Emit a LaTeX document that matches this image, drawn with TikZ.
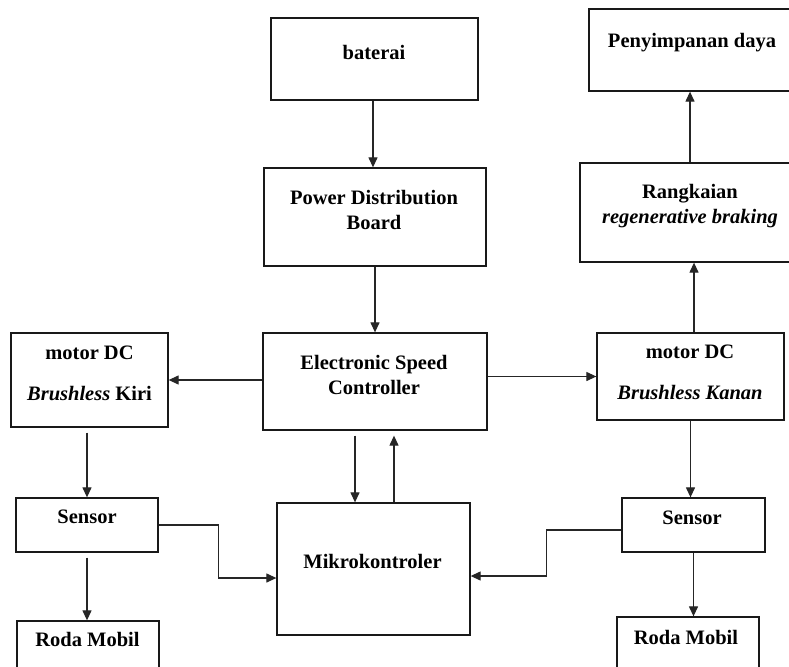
\documentclass[tikz,border=0pt]{standalone}
\usepackage{fontspec}
\setmainfont{Liberation Serif}
\usetikzlibrary{arrows.meta}
\tikzset{
  blk/.style={draw=black!90, line width=1.3pt, rectangle, inner sep=0pt},
  txt/.style={font=\fontsize{20.5}{25}\selectfont\bfseries, inner sep=0pt, align=center},
  arr/.style={draw=black!85, line width=1.2pt, -{Triangle[length=10pt,width=9pt]}},
}
\begin{document}
\begin{tikzpicture}[x=1pt,y=-1pt]
\useasboundingbox (0,0) rectangle (789,666);
\clip (0,0) rectangle (789,666);
\fill[white] (0,0) rectangle (789,666);
% boxes
\node[blk, minimum width=207pt, minimum height=82pt] (bat) at (374.5,59) {};
\node[blk, minimum width=211pt, minimum height=82pt] (pen) at (694.5,50) {};
\node[blk, minimum width=222pt, minimum height=98pt] (pdb) at (375,217) {};
\node[blk, minimum width=220pt, minimum height=99pt] (rb) at (690,212.5) {};
\node[blk, minimum width=157pt, minimum height=94pt] (mkiri) at (89.5,380) {};
\node[blk, minimum width=224pt, minimum height=97pt] (esc) at (375,381.5) {};
\node[blk, minimum width=187pt, minimum height=87pt] (mkanan) at (690.5,376.5) {};
\node[blk, minimum width=142pt, minimum height=54pt] (sL) at (87,525) {};
\node[blk, minimum width=193pt, minimum height=132pt] (mik) at (373.5,569) {};
\node[blk, minimum width=143pt, minimum height=54pt] (sR) at (693.5,525) {};
\node[blk, minimum width=142pt, minimum height=79pt] (rL) at (88,660.5) {};
\node[blk, minimum width=142pt, minimum height=83pt] (rR) at (688,658.5) {};
% texts
\node[txt] (tbat) at (374,52) {baterai};
\node[txt] (tpen) at (692,43) {Penyimpanan daya};
\node[txt] (tpdb) at (374,210) {Power Distribution\\Board};
\node[txt] (trb) at (690,206.5) {Rangkaian\\\textit{regenerative braking}};
\node[txt] (tmkiri) at (89.5,373.5) {motor DC\\[16pt]\textit{Brushless} Kiri};
\node[txt] (tesc) at (374,375) {Electronic Speed\\Controller};
\node[txt] (tmkanan) at (690,372.5) {motor DC\\[16pt]\textit{Brushless Kanan}};
\node[txt] (tsL) at (87,517) {Sensor};
\node[txt] (tmik) at (372.5,561) {Mikrokontroler};
\node[txt] (tsR) at (692,518) {Sensor};
\node[txt] (trL) at (87.5,639) {Roda Mobil};
\node[txt] (trR) at (686,637) {Roda Mobil};
% connectors
\draw[arr] ([xshift=-1.5pt]bat.south) -- ([xshift=-1.5pt]bat.south |- pdb.north);
\draw[arr] (pdb.south) -- (pdb.south |- esc.north);
\draw[arr] ([yshift=1.5pt]esc.west) -- ([yshift=1.5pt]esc.west -| mkiri.east);
\draw[arr] (mkanan.west -| esc.east) -- (mkanan.west);
\draw[arr] ([xshift=3.5pt]mkanan.north) -- ([xshift=3.5pt]mkanan.north |- rb.south);
\draw[arr] (rb.north) -- (rb.north |- pen.south);
\draw[arr, shorten <=5pt] (sL.north |- mkiri.south) -- (sL.north);
\draw[arr, shorten <=5pt] (sL.south) -- (sL.south |- rL.north);
\draw[arr, shorten <=5pt] ([xshift=-20pt]esc.south) -- ([xshift=-20pt]esc.south |- mik.north);
\draw[arr, shorten >=5pt] ([xshift=19pt]esc.south |- mik.north) -- ([xshift=19pt]esc.south);
\draw[arr] (sL.east) -- ++(60,0) |- ([yshift=-9pt]mik.west);
\draw[arr] ([yshift=-5pt]sR.west) -- ++(-75,0) |- ([yshift=-7pt]mik.east);
\draw[arr] (mkanan.south) -- (mkanan.south |- sR.north);
\draw[arr] (sR.south) -- (sR.south |- rR.north);
\end{tikzpicture}
\end{document}
